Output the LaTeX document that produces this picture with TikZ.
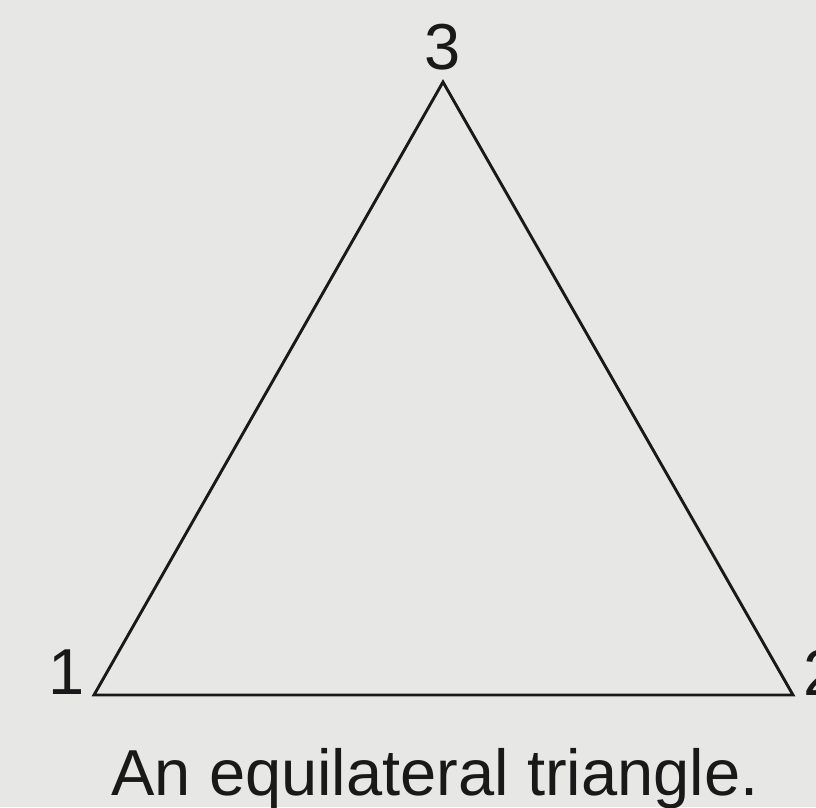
\documentclass[tikz,border=0pt]{standalone}
\usepackage{fontspec}
\setmainfont{Liberation Sans}
\definecolor{paper}{RGB}{231,231,229}
\definecolor{ink}{RGB}{25,25,25}
\begin{document}
\begin{tikzpicture}[x=1pt,y=-1pt,
  lbl/.style={inner sep=0pt,text=ink,font=\fontsize{65}{70}\selectfont},
  edge/.style={draw=ink,line width=2.9pt,line join=miter}]
\clip (0,0) rectangle (816,807);
\fill[paper] (0,0) rectangle (816,807);
\useasboundingbox (0,0) rectangle (816,807);
\coordinate (v1) at (94,695);
\coordinate (v2) at (793,695);
\coordinate (v3) at (443,82);
\draw[edge] (v1) -- (v2) -- (v3) -- cycle;
\node[lbl,anchor=base] (l3) at (443,69) {3};
\node[lbl,anchor=base west] (l1) at (48,694) {1};
\node[lbl,anchor=base west] (l2) at (803,695) {2};
\node[lbl,anchor=base] (cap) at (435,795) {An equilateral triangle.};
\end{tikzpicture}
\end{document}
